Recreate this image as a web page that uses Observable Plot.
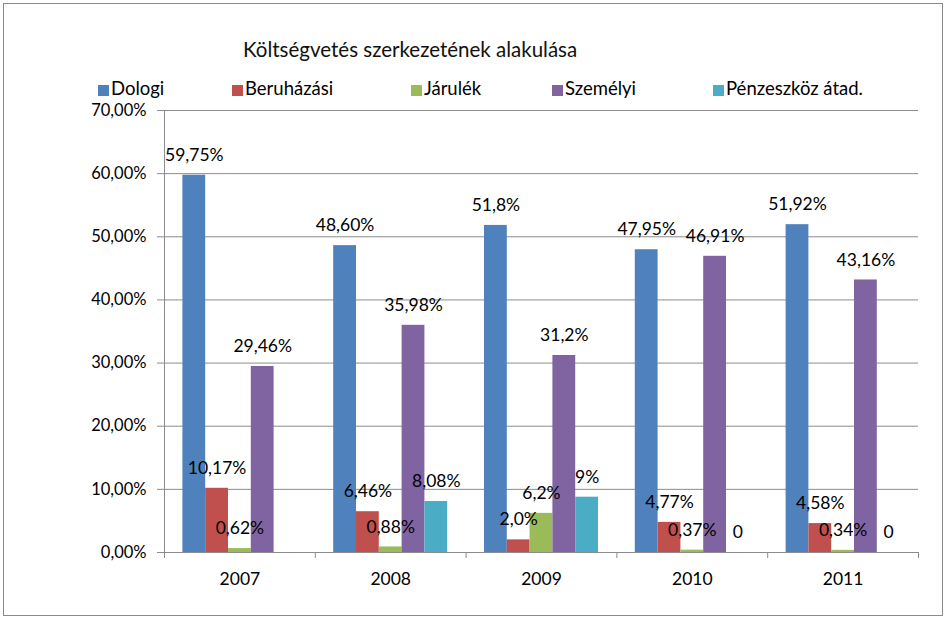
<!DOCTYPE html>
<html><head><meta charset="utf-8">
<script src="https://cdn.jsdelivr.net/npm/d3@7"></script>
<script src="https://cdn.jsdelivr.net/npm/@observablehq/plot@0.6"></script>
<style>
body{margin:0;background:#fff;}
#wrap{position:relative;width:947px;height:620px;font-family:Lato,"Open Sans",sans-serif;color:#000;overflow:hidden}
#box{position:absolute;left:3px;top:3px;width:940px;height:613px;border:1px solid #8a8a8a;box-sizing:border-box}
#title{position:absolute;left:243px;top:37px;font-size:20.5px;white-space:nowrap;color:#111}
#legend{position:absolute;left:98px;top:75px;font-size:18.5px;white-space:nowrap}
#legend .it{display:inline-block;vertical-align:middle}
#legend .sw{display:inline-block;width:11px;height:11px;margin-right:2px;vertical-align:-1px}
#chart{position:absolute;left:0;top:100px}
</style></head>
<body>
<div id="wrap">
<div id="box"></div>
<div id="title">Költségvetés szerkezetének alakulása</div>
<div id="legend"></div>
<div id="chart"></div>
</div>
<script>
const years = ["2007","2008","2009","2010","2011"];
const series = ["Dologi","Beruházási","Járulék","Személyi","Pénzeszköz átad."];
const colors = ["#4F81BD","#C0504D","#9BBB59","#8064A2","#4BACC6"];
const dologi = [59.75,48.60,51.8,47.95,51.92];
const beruhazasi = [10.17,6.46,2.0,4.77,4.58];
const jarulek = [0.62,0.88,6.2,0.37,0.34];
const szemelyi = [29.46,35.98,31.2,46.91,43.16];
const penzeszkoz = [null,8.08,8.76,0,0];
const dologiLabels = ["59,75%","48,60%","51,8%","47,95%","51,92%"];
const beruhazasiLabels = ["10,17%","6,46%","2,0%","4,77%","4,58%"];
const jarulekLabels = ["0,62%","0,88%","6,2%","0,37%","0,34%"];
const szemelyiLabels = ["29,46%","35,98%","31,2%","46,91%","43,16%"];
const penzeszkozLabels = [null,"8,08%","9%","0","0"];
const yTicks = [0,10,20,30,40,50,60,70];

const values = [dologi,beruhazasi,jarulek,szemelyi,penzeszkoz];
const labels = [dologiLabels,beruhazasiLabels,jarulekLabels,szemelyiLabels,penzeszkozLabels];

const groupPad = 0.122, barW = (1 - 2*groupPad)/series.length;
const rows = [];
years.forEach((yr,j)=>{
  series.forEach((s,i)=>{
    const v = values[i][j];
    if (v == null) return;
    const x1 = j + groupPad + i*barW;
    rows.push({year:yr, series:s, value:v, label:labels[i][j], x1, x2:x1+barW, xm:x1+barW/2});
  });
});

// legend
const legendWidths = [134,179,141,161,200];
const lg = document.getElementById("legend");
series.forEach((s,i)=>{
  const it = document.createElement("span");
  it.className="it"; it.style.width = legendWidths[i]+"px";
  it.innerHTML = `<span class="sw" style="background:${colors[i]}"></span>${s}`;
  lg.appendChild(it);
});

const chart = Plot.plot({
  width:947, height:500,
  marginTop:10, marginBottom:48, marginLeft:164, marginRight:29,
  style:{fontFamily:"Lato, 'Open Sans', sans-serif", fontSize:"17.5px", color:"#000", background:"transparent"},
  x:{type:"linear", domain:[0,5], axis:null},
  y:{domain:[0,70], axis:null},
  color:{domain:series, range:colors},
  marks:[
    Plot.ruleY(yTicks, {stroke:"#8c8c8c", strokeWidth:1}),
    Plot.axisY({ticks:yTicks, tickSize:7, tickPadding:11, stroke:"#8c8c8c", fill:"#000", fontSize:16.5, label:null,
      tickFormat:d=>d.toFixed(2).replace(".",",")+"%"}),
    Plot.ruleX([0], {stroke:"#8c8c8c"}),
    Plot.axisX({ticks:[0,1,2,3,4,5], tickSize:6, tickFormat:()=>"", stroke:"#8c8c8c", label:null}),
    Plot.axisX({ticks:[0.5,1.5,2.5,3.5,4.5], tickSize:0, tickPadding:20, fontSize:17.5, fill:"#000", label:null,
      tickFormat:d=>years[Math.floor(d)]}),
    Plot.rectY(rows, {x1:"x1", x2:"x2", y:"value", fill:"series"}),
    Plot.text(rows.filter(d=>d.label), {x:"xm", y:"value", text:"label", dy:-20, fontSize:17.5, fill:"#000"})
  ]
});
document.getElementById("chart").appendChild(chart);
</script>
</body></html>
